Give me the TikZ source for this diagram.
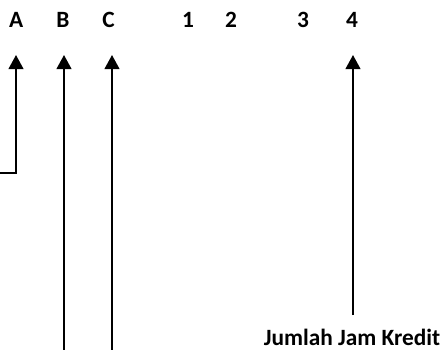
\documentclass[tikz,border=0pt]{standalone}
\usepackage{fontspec}
\setmainfont{Carlito}
\usetikzlibrary{arrows.meta}

\begin{document}
\begin{tikzpicture}[x=0.75pt,y=0.75pt]

\tikzset{label/.style = {anchor=base, inner sep=0pt, font=\bfseries\fontsize{17.5}{20}\selectfont}}
\tikzset{arc/.style = {-{Triangle[width=11pt,length=10.5pt]}, line width=1.5pt}}

\useasboundingbox (0,0) rectangle (444,-350);

% labels
\node[label] (A) at (16.3,-27.3) {A};
\node[label] (B) at (63,-27.3) {B};
\node[label] (C) at (108.5,-27.3) {C};
\node[label] (1) at (188,-27.3) {1};
\node[label] (2) at (231,-27.3) {2};
\node[label] (3) at (303,-27.3) {3};
\node[label] (4) at (352,-27.3) {4};
\node[label] (kredit) at (352,-345.5) {Jumlah Jam Kredit};

% ends
\coordinate (a0) at (0,-173);
\coordinate (a1) at (16,-55);
\coordinate (b0) at (64,-352);
\coordinate (b1) at (64,-55);
\coordinate (c0) at (112,-352);
\coordinate (c1) at (112,-55);
\coordinate (d0) at (353,-315);
\coordinate (d1) at (353,-55);

% arcs
\draw[arc] (a0) -| (a1);
\draw[arc] (b0) to (b1);
\draw[arc] (c0) to (c1);
\draw[arc] (d0) to (d1);

\end{tikzpicture}
\end{document}
